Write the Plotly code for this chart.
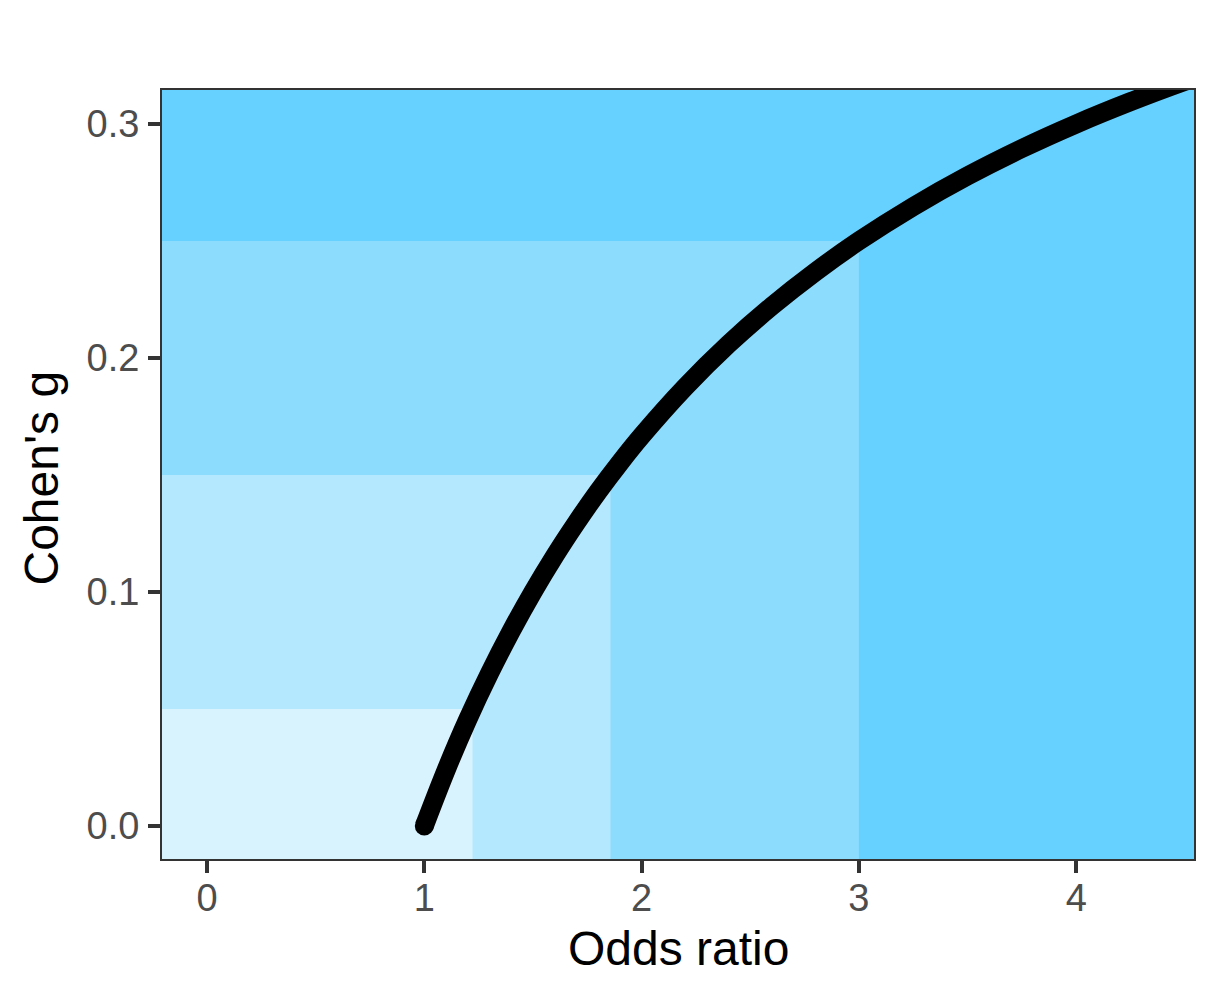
import plotly.graph_objects as go

# Curve values (Odds ratio -> Cohen's g)
odds_ratio = [1.0, 1.1, 1.2, 1.3, 1.4, 1.5, 1.6, 1.7, 1.8, 1.9, 2.0, 2.2, 2.4, 2.6, 2.8,
              3.0, 3.25, 3.5, 3.75, 4.0, 4.25, 4.5, 4.6]
cohens_g = [0.0, 0.0238, 0.0455, 0.0652, 0.0833, 0.1, 0.1154, 0.1296, 0.1429, 0.1552,
            0.1667, 0.1875, 0.2059, 0.2222, 0.2368, 0.25, 0.2647, 0.2778, 0.2895,
            0.3, 0.3095, 0.3182, 0.3214]

# Background effect-size bands (thresholds in g and matching odds ratios)
g_thresholds = [0.05, 0.15, 0.25]
or_thresholds = [1.222, 1.857, 3.0]
band_colors = ["#D9F3FE", "#B3E8FE", "#8CDCFE"]
outer_color = "#66D1FF"

x_ticks = [0, 1, 2, 3, 4]
y_ticks = [0.0, 0.1, 0.2, 0.3]
y_tick_text = ["0.0", "0.1", "0.2", "0.3"]

fig = go.Figure()

# Bands: draw from largest to smallest
for gt, ot, col in reversed(list(zip(g_thresholds, or_thresholds, band_colors))):
    fig.add_shape(type="rect", xref="x", yref="y", x0=-1, x1=ot, y0=-1, y1=gt,
                  fillcolor=col, line=dict(width=0), layer="below")

fig.add_trace(go.Scatter(x=odds_ratio, y=cohens_g, mode="lines",
                         line=dict(color="black", width=19, shape="spline"),
                         hoverinfo="skip", showlegend=False))
# round cap at start
fig.add_trace(go.Scatter(x=odds_ratio[:1], y=cohens_g[:1], mode="markers",
                         marker=dict(color="black", size=19, line=dict(width=0)),
                         hoverinfo="skip", showlegend=False))

axis_common = dict(
    showgrid=False, zeroline=False, showline=True, mirror=True,
    linecolor="#333333", linewidth=2,
    ticks="outside", ticklen=12, tickwidth=4, tickcolor="#333333",
    tickfont=dict(family="Liberation Sans, Arial", size=38, color="#4D4D4D"),
)

fig.update_xaxes(range=[-0.207, 4.542], tickvals=x_ticks,
                 ticktext=[str(v) for v in x_ticks], ticklabelstandoff=-8, **axis_common)
fig.update_yaxes(range=[-0.0141, 0.3145], tickvals=y_ticks, ticktext=y_tick_text,
                 ticklabelstandoff=1, **axis_common)

fig.add_annotation(text="Odds ratio", xref="paper", yref="paper", x=0.5, y=0,
                   yanchor="top", xanchor="center", yshift=-61, showarrow=False,
                   font=dict(family="Liberation Sans, Arial", size=48, color="black"))
fig.add_annotation(text="Cohen's g", xref="paper", yref="paper", x=0, y=0.5,
                   xanchor="center", yanchor="middle", xshift=-121, yshift=-4,
                   textangle=-90, showarrow=False,
                   font=dict(family="Liberation Sans, Arial", size=48, color="black"))

# page body adds an 8px offset; margins compensate so the panel lands at 162..1194 x 90..859
fig.update_layout(
    width=1217, height=988,
    margin=dict(l=154, r=31, t=82, b=137, pad=0),
    plot_bgcolor=outer_color, paper_bgcolor="white",
    showlegend=False,
)

fig.write_html("out.html")
